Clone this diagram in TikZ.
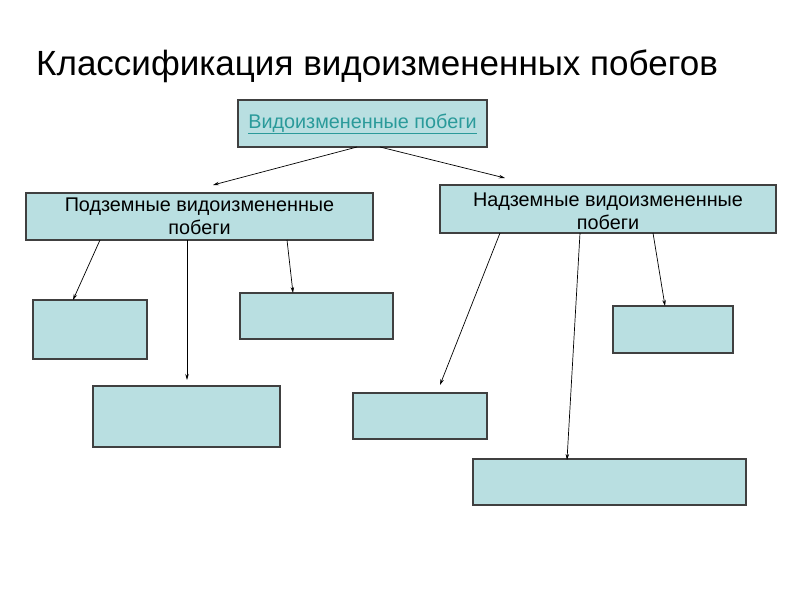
\documentclass[tikz,border=0pt]{standalone}
\usepackage{fontspec}
\setmainfont{Liberation Sans}
\usetikzlibrary{arrows.meta}
\definecolor{boxfill}{HTML}{B9DFE1}
\definecolor{linkc}{HTML}{2A9A9A}
\begin{document}
\begin{tikzpicture}[x=1pt,y=-1pt,
  box/.style={draw=black!75,line width=1.2pt,fill=boxfill},
  conn/.style={line width=0.7pt,-{Stealth[length=6pt,width=3.5pt]}},
  lbl/.style={font=\fontsize{19.8}{23}\selectfont,align=center,inner sep=0pt}]
\useasboundingbox (0,0) rectangle (800,600);
\node[anchor=base west,font=\fontsize{35}{40}\selectfont,inner sep=0pt] (title) at (36,75) {Классификация видоизмененных побегов};
\draw[box] (238,100) rectangle (487,147);
\node[lbl,text=linkc] (top) at (362.5,124) {\underline{Видоизмененные побеги}};
\draw[box] (26,193) rectangle (373,240);
\node[lbl] (pod) at (199.5,216) {Подземные видоизмененные\\побеги};
\draw[box] (440,185) rectangle (776,233);
\node[lbl] (nad) at (608,211.5) {Надземные видоизмененные\\побеги};
\draw[box] (33,300) rectangle (147,359);
\draw[box] (240,293) rectangle (393,339);
\draw[box] (93,386) rectangle (280,447);
\draw[box] (353,393) rectangle (487,439);
\draw[box] (613,306) rectangle (733,353);
\draw[box] (473,459) rectangle (746,505);
\coordinate (t1) at (357,147); \coordinate (t1e) at (213,185);
\coordinate (t2) at (380,147); \coordinate (t2e) at (505,178);
\coordinate (p1) at (100,240); \coordinate (p1e) at (73,300);
\coordinate (p2) at (187,240); \coordinate (p2e) at (187,380);
\coordinate (p3) at (287,240); \coordinate (p3e) at (293,293);
\coordinate (n1) at (500,233); \coordinate (n1e) at (440,385);
\coordinate (n2) at (580,233); \coordinate (n2e) at (567,460);
\coordinate (n3) at (653,233); \coordinate (n3e) at (665,306);
\foreach \a/\b in {t1/t1e,t2/t2e,p1/p1e,p2/p2e,p3/p3e,n1/n1e,n2/n2e,n3/n3e}
  \draw[conn] (\a) -- (\b);
\end{tikzpicture}
\end{document}
